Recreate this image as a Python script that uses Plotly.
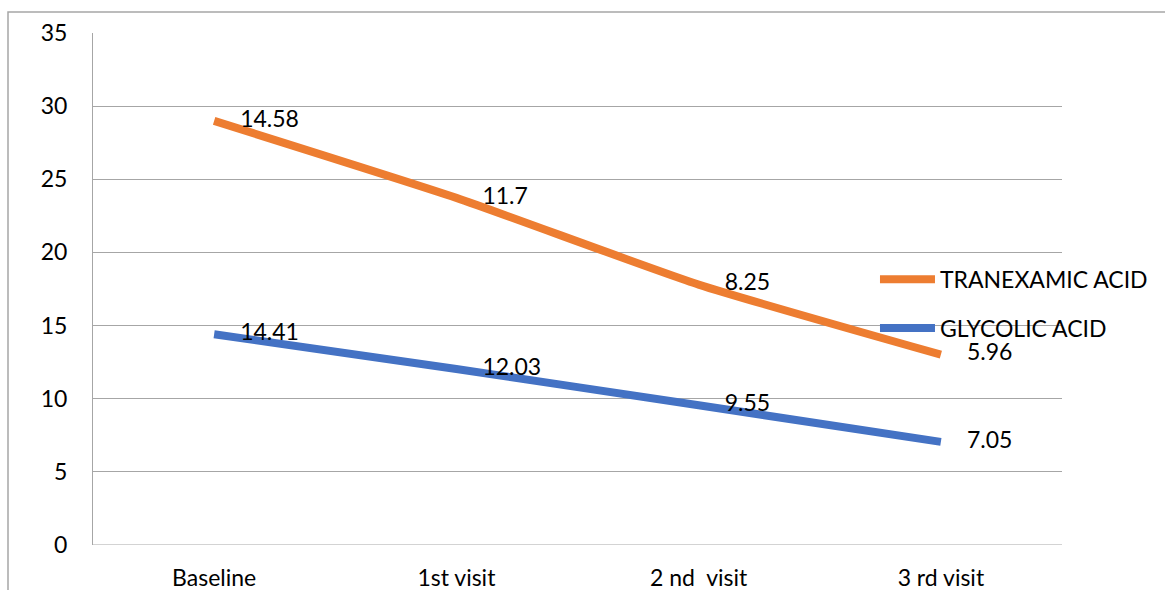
import plotly.graph_objects as go

categories = ["Baseline", "1st visit", "2 nd  visit", "3 rd visit"]
glycolic = [14.41, 12.03, 9.55, 7.05]
tranexamic = [14.58, 11.7, 8.25, 5.96]
y_ticks = [0, 5, 10, 15, 20, 25, 30, 35]

FONT = "Lato"
FS = 23
ORANGE = "#ED7D31"
BLUE = "#4472C4"
GRID = "#a6a6a6"

fig = go.Figure()
fig.add_trace(go.Scatter(
    x=categories, y=glycolic, name="GLYCOLIC ACID",
    stackgroup="s", fill="none", legendrank=2, legendgroup="g",
    mode="lines+markers+text", text=[str(v) for v in glycolic],
    textposition="middle right", textfont=dict(size=FS, color="#000", family=FONT),
    line=dict(color=BLUE, width=8, shape="spline", smoothing=0.5),
    marker=dict(size=40, color="rgba(0,0,0,0)", line=dict(width=0)),
    hoverinfo="skip",
))
fig.add_trace(go.Scatter(
    x=categories, y=tranexamic, name="TRANEXAMIC ACID",
    stackgroup="s", fill="none", legendrank=1, legendgroup="t",
    mode="lines+markers+text", text=[str(v) for v in tranexamic],
    textposition="middle right", textfont=dict(size=FS, color="#000", family=FONT),
    line=dict(color=ORANGE, width=8, shape="spline", smoothing=0.5),
    marker=dict(size=40, color="rgba(0,0,0,0)", line=dict(width=0)),
    hoverinfo="skip",
))

fig.update_layout(
    template="none",
    width=1165, height=590, autosize=False,
    margin=dict(l=93, r=103, t=33, b=45, autoexpand=False),
    paper_bgcolor="white", plot_bgcolor="white",
    font=dict(family=FONT, size=FS, color="#000"),
    showlegend=True,
    legend=dict(
        x=0.807, y=0.561, xanchor="left", yanchor="top",
        bgcolor="rgba(0,0,0,0)", font=dict(size=FS, family=FONT),
        traceorder="grouped", tracegroupgap=16, itemwidth=55,
    ),
    xaxis=dict(
        type="category", range=[-0.5, 3.5], showgrid=False, automargin=False,
        showline=False, zeroline=False, ticks="", ticklabelstandoff=17,
        tickfont=dict(size=FS, family=FONT),
    ),
    yaxis=dict(
        range=[0, 35], tickvals=y_ticks, showgrid=True, gridcolor=GRID, gridwidth=1,
        showline=True, linecolor=GRID, linewidth=1, zeroline=False, automargin=False,
        ticks="", ticklabelstandoff=20, tickfont=dict(size=FS, family=FONT),
    ),
    shapes=[
        dict(type="rect", xref="paper", yref="paper",
             x0=(8 - 93) / 969, x1=1.3, y0=-0.3, y1=(545 - 12) / 512,
             line=dict(color=GRID, width=1.5), layer="below"),
        dict(type="line", xref="paper", yref="y", x0=0, x1=1, y0=0, y1=0,
             line=dict(color=GRID, width=1), layer="below"),
    ],
)

fig.write_html(
    "out.html",
    config={"displayModeBar": False, "responsive": False},
    post_script="document.body.style.margin='0';document.body.style.overflow='hidden';",
)
